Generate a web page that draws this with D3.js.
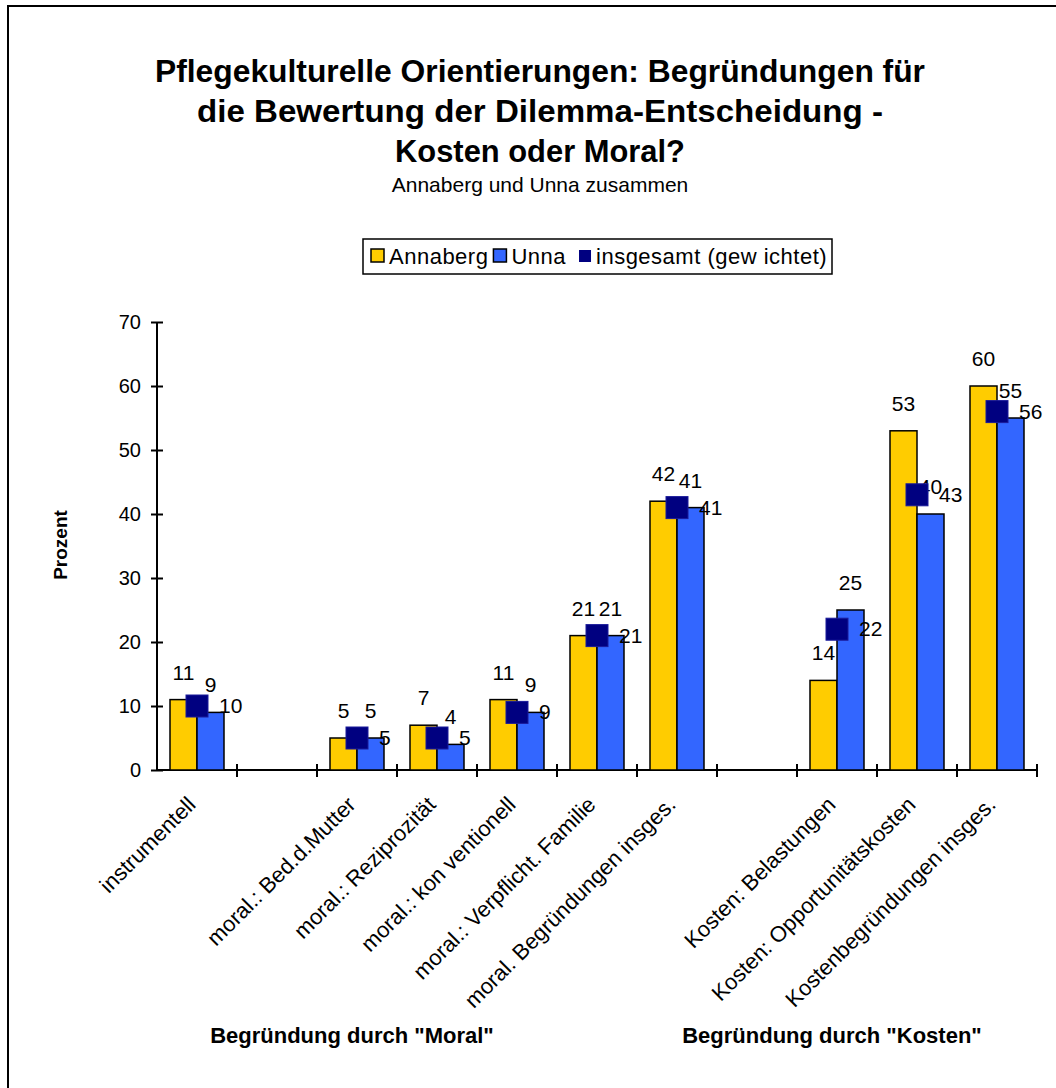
<!DOCTYPE html>
<html>
<head>
<meta charset="utf-8">
<style>
body { margin: 0; background: #fff; }
svg text { font-family: "Liberation Sans", Arial, sans-serif; fill: #000; }
.bar { stroke: #000; stroke-width: 1.5; }
.axis line, .axis path { stroke: #000; stroke-width: 2; }
</style>
<title>Pflegekulturelle Orientierungen</title>
</head>
<body>
<svg width="1056" height="1088"></svg>
<script src="https://d3js.org/d3.v7.min.js"></script>
<script>
// data
var categories = ["instrumentell", "", "moral.: Bed.d.Mutter", "moral.: Reziprozität",
    "moral.: kon ventionell", "moral.: Verpflicht. Familie", "moral. Begründungen insges.",
    "", "Kosten: Belastungen", "Kosten: Opportunitätskosten", "Kostenbegründungen insges."];
var annaberg  = [11, null, 5, 7, 11, 21, 42, null, 14, 53, 60];
var unna      = [9, null, 5, 4, 9, 21, 41, null, 25, 40, 55];
var insgesamt = [10, null, 5, 5, 9, 21, 41, null, 22, 43, 56];
var yTicks = [0, 10, 20, 30, 40, 50, 60, 70];
var titleLines = ["Pflegekulturelle Orientierungen: Begründungen für",
    "die Bewertung der Dilemma-Entscheidung -", "Kosten oder Moral?"];
var titleWidths = [770, 686, 290];
var subtitle = "Annaberg und Unna zusammen";
var legendNames = ["Annaberg", "Unna", "insgesamt (gew ichtet)"];
var groupNames = ['Begründung durch "Moral"', 'Begründung durch "Kosten"'];
var groupAt = [2, 8];   // category index the group caption sits under

var colYellow = "#FFCC00", colBlue = "#3366FF", colNavy = "#000080";

var svg = d3.select("svg");

// outer frame (only top/left edges fall inside the picture)
svg.append("rect")
    .attr("x", 8).attr("y", 6)
    .attr("width", 1100).attr("height", 1150)
    .attr("fill", "none").attr("stroke", "#000").attr("stroke-width", 2);

var x = d3.scaleBand()
    .domain(d3.range(categories.length))
    .range([157, 1037])
    .paddingInner(0.325)
    .paddingOuter(0.1625);

var y = d3.scaleLinear()
    .domain([0, 70])
    .range([770, 322]);

var half = x.bandwidth() / 2;

// title
var title = svg.append("g");
title.selectAll("text.t")
    .data(titleLines)
  .enter().append("text")
    .attr("class", "t")
    .attr("x", 540)
    .attr("y", function(d, i) { return 82 + i * 40; })
    .attr("text-anchor", "middle")
    .attr("font-weight", "bold")
    .attr("font-size", 31)
    .attr("textLength", function(d, i) { return titleWidths[i]; })
    .attr("lengthAdjust", "spacingAndGlyphs")
    .text(function(d) { return d; });

title.append("text")
    .attr("x", 540).attr("y", 192)
    .attr("text-anchor", "middle")
    .attr("font-size", 21)
    .text(subtitle);

// legend
var lg = svg.append("g");
lg.append("rect")
    .attr("x", 363).attr("y", 239)
    .attr("width", 469).attr("height", 35)
    .attr("fill", "#fff").attr("stroke", "#000").attr("stroke-width", 1.5);

var lx = 371;
legendNames.forEach(function(name, i) {
    if (i < 2) {
        lg.append("rect")
            .attr("x", lx).attr("y", 249).attr("width", 13).attr("height", 13)
            .attr("fill", i === 0 ? colYellow : colBlue)
            .attr("stroke", "#000").attr("stroke-width", 1.5);
    } else {
        lx += 7;
        lg.append("rect")
            .attr("x", lx + 1).attr("y", 250).attr("width", 12).attr("height", 12)
            .attr("fill", colNavy);
    }
    var t = lg.append("text")
        .attr("x", lx + 18).attr("y", 264)
        .attr("font-size", 22)
        .attr("letter-spacing", 0.5)
        .text(name);
    lx += 18 + t.node().getComputedTextLength() + 5;
});

// y axis
var yAxis = svg.append("g")
    .attr("class", "axis")
    .attr("transform", "translate(157,0)")
    .call(d3.axisLeft(y).tickValues(yTicks).tickSize(6).tickPadding(10));
yAxis.selectAll(".tick line").attr("x1", 6);
yAxis.select(".domain").attr("d", "M0," + y(0) + "V" + y(70));
yAxis.selectAll(".tick text")
    .attr("font-size", 20)
    .attr("font-family", "Liberation Sans, Arial, sans-serif");

svg.append("text")
    .attr("transform", "translate(67,545) rotate(-90)")
    .attr("text-anchor", "middle")
    .attr("font-weight", "bold")
    .attr("font-size", 19)
    .text("Prozent");

// x axis: line with ticks on the category boundaries
var xa = svg.append("g").attr("class", "axis");
xa.append("line")
    .attr("x1", x.range()[0]).attr("x2", x.range()[1])
    .attr("y1", y(0)).attr("y2", y(0));
xa.selectAll("line.tk")
    .data(d3.range(categories.length))
  .enter().append("line")
    .attr("class", "tk")
    .attr("x1", function(i) { return x(i) + half + x.step() / 2; })
    .attr("x2", function(i) { return x(i) + half + x.step() / 2; })
    .attr("y1", y(0) - 6).attr("y2", y(0) + 7);

// category labels
svg.append("g").selectAll("text")
    .data(categories)
  .enter().append("text")
    .attr("transform", function(d, i) {
        return "translate(" + (x(i) + half) + ",806) rotate(-45)";
    })
    .attr("text-anchor", "end")
    .attr("font-size", 22)
    .text(function(d) { return d; });

// group captions
svg.append("g").selectAll("text")
    .data(groupNames)
  .enter().append("text")
    .attr("x", function(d, i) { return x(groupAt[i]) + half - 5; })
    .attr("y", 1043)
    .attr("text-anchor", "middle")
    .attr("font-weight", "bold")
    .attr("font-size", 22)
    .text(function(d) { return d; });

// bars
var idx = d3.range(categories.length);
var series = [
    { vals: annaberg, color: colYellow, off: 0 },
    { vals: unna, color: colBlue, off: half }
];

series.forEach(function(s) {
    var valid = idx.filter(function(i) { return s.vals[i] != null; });
    svg.append("g").selectAll("rect")
        .data(valid)
      .enter().append("rect")
        .attr("class", "bar")
        .attr("x", function(i) { return x(i) + s.off; })
        .attr("y", function(i) { return y(s.vals[i]); })
        .attr("width", half)
        .attr("height", function(i) { return y(0) - y(s.vals[i]); })
        .attr("fill", s.color);
});

// bar value labels
series.forEach(function(s) {
    var valid = idx.filter(function(i) { return s.vals[i] != null; });
    svg.append("g").selectAll("text")
        .data(valid)
      .enter().append("text")
        .attr("x", function(i) { return x(i) + s.off + half / 2; })
        .attr("y", function(i) { return y(s.vals[i]) - 20; })
        .attr("text-anchor", "middle")
        .attr("font-size", 21)
        .text(function(i) { return s.vals[i]; });
});

// weighted total markers
var validT = idx.filter(function(i) { return insgesamt[i] != null; });
svg.append("g").selectAll("rect")
    .data(validT)
  .enter().append("rect")
    .attr("x", function(i) { return x(i) + half - 11; })
    .attr("y", function(i) { return y(insgesamt[i]) - 11; })
    .attr("width", 22).attr("height", 22)
    .attr("fill", colNavy)
    .attr("stroke", "#1a1a9a").attr("stroke-width", 1);

svg.append("g").selectAll("text")
    .data(validT)
  .enter().append("text")
    .attr("x", function(i) { return x(i) + half + 22; })
    .attr("y", function(i) { return y(insgesamt[i]) + 7; })
    .attr("font-size", 21)
    .text(function(i) { return insgesamt[i]; });
</script>
</body>
</html>
